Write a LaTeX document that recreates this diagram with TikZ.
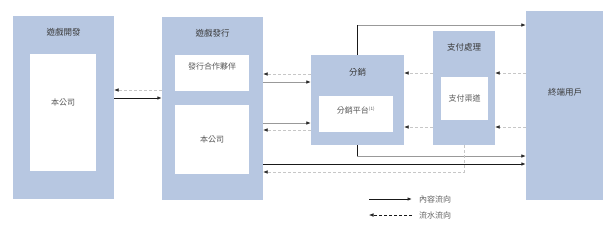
\documentclass[tikz,border=0pt]{standalone}
\usepackage{fontspec}
\setmainfont{Noto Sans CJK TC}
\usepackage{xcolor}
\usetikzlibrary{positioning,arrows.meta}

\definecolor{boxblue}{HTML}{B7C7E1}
\definecolor{txtgray}{HTML}{3A3A3A}

\begin{document}
\begin{tikzpicture}[x=1pt, y=-1pt,
  outer/.style={fill=boxblue, draw=none, inner sep=0pt},
  inner/.style={fill=white, draw=none, inner sep=0pt, font=\fontsize{8}{9}\selectfont, text=txtgray!85},
  title/.style={inner sep=0pt, font=\fontsize{8.5}{10}\selectfont, text=txtgray},
  content/.style={-{Latex[length=4.5pt, width=3.6pt, color=black!85]}, line width=0.9pt, black!90},
  contentg/.style={content, line width=0.8pt, black!40},
  stem/.style={line width=1pt, black!90},
  flow/.style={-{Latex[length=4.5pt, width=3.6pt, color=black!85]}, line width=0.6pt, densely dashed, black!22},
  legtext/.style={inner sep=0pt, font=\fontsize{8}{9}\selectfont, text=txtgray!80, anchor=west}
]
\useasboundingbox[fill=white] (0,0) rectangle (616,231);

% boxes
\node[outer, minimum width=101pt, minimum height=183pt] (dev) at (63.5,107.5) {};
\node[inner, minimum width=66pt, minimum height=117pt] (devco) at (63,112.5) {};
\node[inner, fill=none] (devcot) at (63,102) {本公司};
\node[title, below=12pt of dev.north] (devt) {遊戲開發};

\node[outer, minimum width=101pt, minimum height=183pt] (pub) at (212.5,108.5) {};
\node[inner, minimum width=74pt, minimum height=36pt] (pubpartner) at (212,73) {};
\node[inner, below=8pt of pubpartner.north] (pubpartnert) {發行合作夥伴};
\node[inner, minimum width=74pt, minimum height=69pt] (pubco) at (212,139.5) {本公司};
\node[title, below=12pt of pub.north] (pubt) {遊戲發行};

\node[outer, minimum width=93pt, minimum height=90pt] (dist) at (357.5,100) {};
\node[inner, minimum width=74pt, minimum height=36pt] (distplat) at (356,114) {};
\node[inner, fill=none] (distplatt) at (356,110) {分銷平台\textsuperscript{\fontsize{4.5}{5}\selectfont(1)}};
\node[title, below=13pt of dist.north] (distt) {分銷};

\node[outer, minimum width=62pt, minimum height=114pt] (pay) at (464,88) {};
\node[inner, minimum width=47pt, minimum height=43pt] (paych) at (464.5,98.5) {支付渠道};
\node[title, below=12pt of pay.north] (payt) {支付處理};

\node[outer, minimum width=77pt, minimum height=189pt] (user) at (564.5,105.5) {};
\node[title] (usert) at (565,92) {終端用戶};

% dev <-> pub
\draw[flow] (pub.west |- 0,90) -- (dev.east |- 0,90);
\draw[content] (dev.east |- 0,98) -- (pub.west |- 0,98);

% pub <-> dist
\draw[flow] (dist.west |- 0,74) -- (pub.east |- 0,74);
\draw[contentg] (pub.east |- 0,82) -- (dist.west |- 0,82);
\draw[contentg] (pub.east |- 0,123) -- (dist.west |- 0,123);
\draw[flow] (dist.west |- 0,130) -- (pub.east |- 0,130);

% dist -> user
\draw[contentg] (dist.north) |- (user.west |- 0,25);
\draw[stem] (dist.north) -- (dist.north |- 0,25);
\draw[contentg] (dist.south) |- (user.west |- 0,156);
\draw[stem] (dist.south) -- (dist.south |- 0,156);
\draw[content] (pub.east |- 0,164) -- (user.west |- 0,164);

% pay
\draw[flow] (pay.south) |- (pub.east |- 0,172);
\draw[flow] (pay.west |- 0,73) -- (dist.east |- 0,73);
\draw[flow] (pay.west |- 0,127) -- (dist.east |- 0,127);
\draw[flow] (user.west |- 0,73) -- (pay.east |- 0,73);
\draw[flow] (user.west |- 0,127) -- (pay.east |- 0,127);

% legend
\coordinate (leg1a) at (369,199);
\coordinate (leg1b) at (412,199);
\coordinate (leg2a) at (369,215);
\coordinate (leg2b) at (412,215);
\draw[content] (leg1a) -- (leg1b);
\draw[flow, black!90] (leg2b) -- (leg2a);
\node[legtext] (leg1t) at (419,199) {內容流向};
\node[legtext] (leg2t) at (419,215) {流水流向};

\end{tikzpicture}
\end{document}
